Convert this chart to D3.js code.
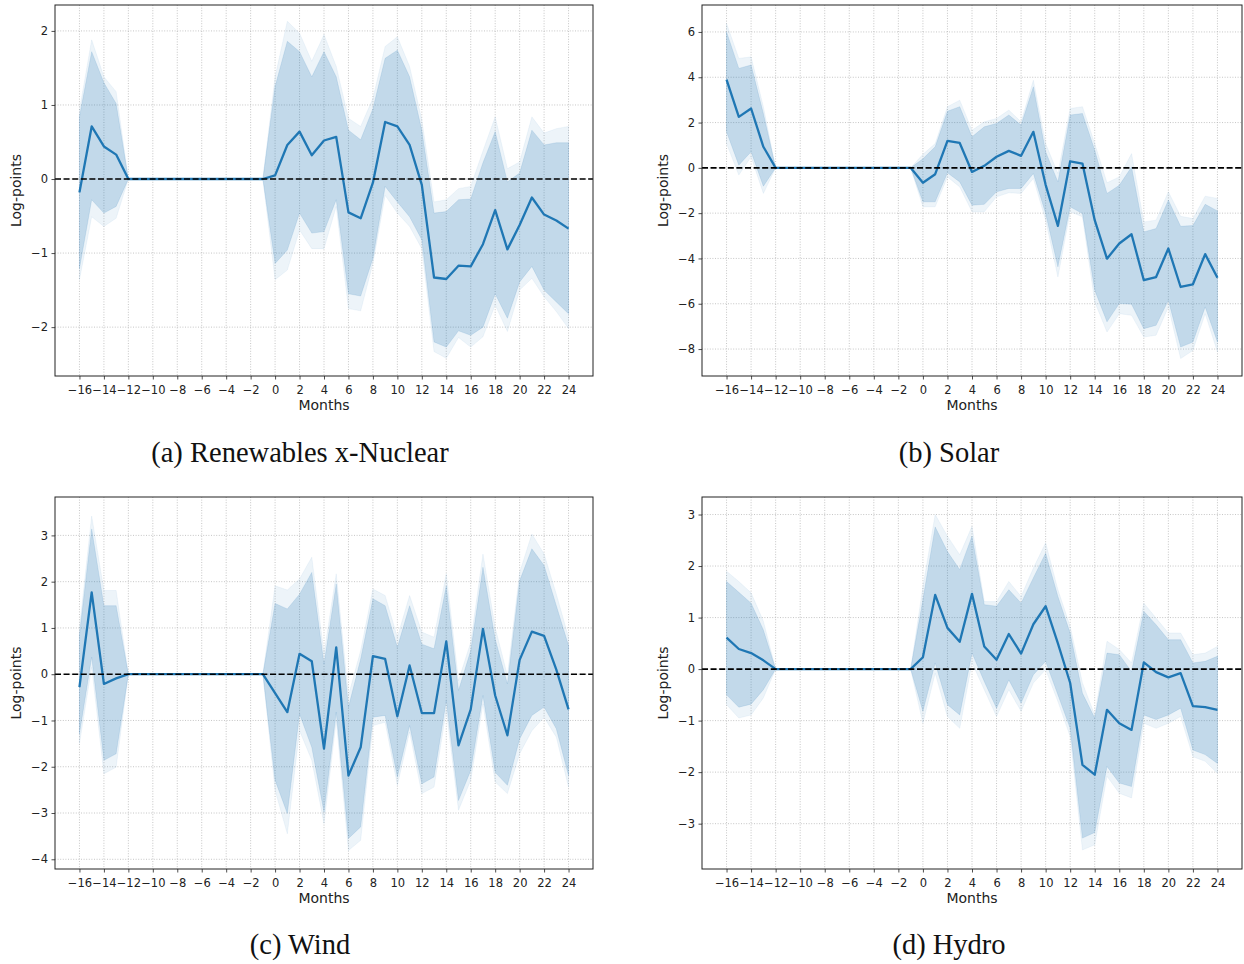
<!DOCTYPE html>
<html>
<head>
<meta charset="utf-8">
<script src="https://cdn.jsdelivr.net/npm/d3@7"></script>
<style>
  body { margin: 0; background: #fff; }
  svg { display: block; }
  .tick text { font-family: "DejaVu Sans", sans-serif; font-size: 11.5px; fill: #222; }
  .axis-label { font-family: "DejaVu Sans", sans-serif; font-size: 14px; fill: #222; }
  .caption { font-family: "Liberation Serif", serif; font-size: 28.5px; fill: #111; }
</style>
</head>
<body>
<svg id="chart" width="1244" height="964"></svg>
<script>

// months on the x axis (-16 .. 24)
const months = [-16, -15, -14, -13, -12, -11, -10, -9, -8, -7, -6, -5, -4, -3, -2, -1,
  0, 1, 2, 3, 4, 5, 6, 7, 8, 9, 10, 11, 12, 13, 14, 15, 16, 17, 18, 19, 20, 21, 22, 23, 24];

// (a) renewables x-nuclear
const meanA = [-0.18, 0.71, 0.44, 0.33, 0, 0, 0, 0, 0, 0, 0, 0, 0, 0, 0, 0,
  0.05, 0.46, 0.64, 0.32, 0.52, 0.57, -0.45, -0.53, -0.05, 0.77, 0.71, 0.46, -0.08, -1.33, -1.35, -1.17, -1.18, -0.88, -0.42, -0.95, -0.62, -0.25, -0.48, -0.56, -0.67];
const hiA = [0.84, 1.72, 1.30, 1.02, 0, 0, 0, 0, 0, 0, 0, 0, 0, 0, 0, 0,
  1.25, 1.86, 1.72, 1.38, 1.72, 1.38, 0.66, 0.53, 0.95, 1.63, 1.74, 1.38, 0.66, -0.46, -0.44, -0.28, -0.27, 0.22, 0.64, -0.04, 0.08, 0.66, 0.46, 0.49, 0.49];
const loA = [-1.21, -0.28, -0.46, -0.37, 0, 0, 0, 0, 0, 0, 0, 0, 0, 0, 0, 0,
  -1.14, -0.96, -0.46, -0.73, -0.71, -0.28, -1.55, -1.58, -1.07, -0.10, -0.31, -0.51, -0.82, -2.20, -2.27, -2.05, -2.11, -2.00, -1.55, -1.88, -1.39, -1.18, -1.50, -1.66, -1.82];
const hi2A = [0.93, 1.88, 1.38, 1.18, 0, 0, 0, 0, 0, 0, 0, 0, 0, 0, 0, 0,
  1.38, 2.13, 1.97, 1.59, 1.95, 1.52, 0.82, 0.71, 1.09, 1.79, 1.92, 1.52, 0.80, -0.31, -0.28, -0.13, -0.10, 0.38, 0.84, 0.14, 0.23, 0.84, 0.62, 0.68, 0.71];
const lo2A = [-1.36, -0.51, -0.64, -0.53, 0, 0, 0, 0, 0, 0, 0, 0, 0, 0, 0, 0,
  -1.36, -1.23, -0.69, -0.94, -0.94, -0.37, -1.75, -1.78, -1.14, -0.22, -0.46, -0.64, -0.94, -2.33, -2.42, -2.14, -2.27, -2.13, -1.70, -2.06, -1.50, -1.34, -1.59, -1.79, -2.02];

// (b) solar
const meanB = [3.90, 2.25, 2.62, 0.93, 0, 0, 0, 0, 0, 0, 0, 0, 0, 0, 0, 0,
  -0.66, -0.28, 1.19, 1.10, -0.18, 0.09, 0.49, 0.75, 0.53, 1.59, -0.75, -2.56, 0.29, 0.19, -2.31, -4.01, -3.34, -2.93, -4.96, -4.82, -3.56, -5.26, -5.14, -3.81, -4.85];
const hiB = [6.00, 4.39, 4.54, 2.40, 0, 0, 0, 0, 0, 0, 0, 0, 0, 0, 0, 0,
  0.40, 0.93, 2.50, 2.70, 1.37, 1.81, 1.96, 2.33, 1.89, 3.58, 0.71, -0.62, 2.33, 2.40, 0.78, -1.13, -0.77, 0.04, -2.83, -2.68, -1.43, -2.58, -2.55, -1.61, -1.90];
const loB = [1.59, 0.12, 0.71, -0.81, 0, 0, 0, 0, 0, 0, 0, 0, 0, 0, 0, 0,
  -1.50, -1.50, -0.22, -0.62, -1.65, -1.61, -1.06, -0.91, -0.91, -0.25, -2.02, -4.37, -1.72, -2.02, -5.40, -6.80, -5.99, -6.02, -7.10, -6.95, -5.85, -7.91, -7.69, -6.14, -7.69];
const hi2B = [6.38, 4.83, 4.90, 2.70, 0, 0, 0, 0, 0, 0, 0, 0, 0, 0, 0, 0,
  0.60, 1.07, 2.70, 2.99, 1.66, 2.03, 2.18, 2.55, 2.03, 3.87, 1.07, -0.25, 2.62, 2.70, 1.07, -0.66, -0.40, 0.63, -2.39, -2.31, -1.06, -2.14, -2.24, -1.25, -1.35];
const lo2B = [1.07, -0.32, 0.49, -1.13, 0, 0, 0, 0, 0, 0, 0, 0, 0, 0, 0, 0,
  -1.72, -1.72, -0.40, -0.84, -1.94, -1.94, -1.28, -1.10, -1.13, -0.47, -2.31, -4.82, -1.94, -2.16, -5.92, -7.25, -6.44, -6.51, -7.47, -7.39, -6.14, -8.42, -8.06, -6.44, -8.13];

// (c) wind
const meanC = [-0.28, 1.77, -0.21, -0.09, 0, 0, 0, 0, 0, 0, 0, 0, 0, 0, 0, 0,
  -0.41, -0.82, 0.44, 0.28, -1.61, 0.58, -2.19, -1.58, 0.39, 0.33, -0.91, 0.19, -0.84, -0.84, 0.71, -1.54, -0.76, 0.98, -0.46, -1.32, 0.31, 0.92, 0.83, 0.10, -0.76];
const hiC = [0.85, 3.14, 1.48, 1.48, 0, 0, 0, 0, 0, 0, 0, 0, 0, 0, 0, 0,
  1.53, 1.41, 1.73, 2.20, 0.22, 1.95, -0.71, 0.33, 1.63, 1.48, 0.58, 1.48, 0.65, 0.55, 1.91, -0.35, 0.51, 2.31, 0.76, -0.21, 2.02, 2.71, 2.35, 1.48, 0.62];
const loC = [-1.29, 0.37, -1.86, -1.72, 0, 0, 0, 0, 0, 0, 0, 0, 0, 0, 0, 0,
  -2.29, -3.01, -0.86, -1.58, -2.98, -0.82, -3.55, -3.30, -0.93, -0.89, -2.22, -1.11, -2.37, -2.22, -0.57, -2.73, -2.08, -0.46, -2.12, -2.40, -1.40, -0.89, -0.71, -1.18, -2.19];
const hi2C = [1.00, 3.42, 1.81, 1.81, 0, 0, 0, 0, 0, 0, 0, 0, 0, 0, 0, 0,
  1.91, 1.82, 2.06, 2.53, 0.44, 2.17, -0.46, 0.51, 1.84, 1.70, 0.80, 1.70, 0.91, 0.80, 2.17, -0.14, 0.69, 2.60, 1.01, -0.03, 2.20, 3.03, 2.60, 1.73, 0.80];
const lo2C = [-1.50, 0.15, -2.15, -2.01, 0, 0, 0, 0, 0, 0, 0, 0, 0, 0, 0, 0,
  -2.51, -3.45, -1.22, -1.86, -3.23, -1.00, -3.81, -3.59, -1.11, -1.04, -2.40, -1.25, -2.58, -2.44, -0.78, -2.94, -2.29, -0.64, -2.33, -2.58, -1.72, -1.22, -0.93, -1.36, -2.44];

// (d) hydro
const meanD = [0.61, 0.39, 0.31, 0.17, 0, 0, 0, 0, 0, 0, 0, 0, 0, 0, 0, 0,
  0.23, 1.44, 0.80, 0.53, 1.46, 0.44, 0.18, 0.68, 0.30, 0.87, 1.22, 0.50, -0.27, -1.86, -2.05, -0.79, -1.05, -1.18, 0.13, -0.06, -0.16, -0.08, -0.72, -0.74, -0.79];
const hiD = [1.70, 1.49, 1.28, 0.76, 0, 0, 0, 0, 0, 0, 0, 0, 0, 0, 0, 0,
  1.35, 2.76, 2.28, 1.93, 2.58, 1.25, 1.22, 1.54, 1.28, 1.77, 2.25, 1.41, 0.70, -0.47, -0.95, 0.31, 0.28, -0.05, 1.12, 0.86, 0.57, 0.57, 0.12, 0.15, 0.25];
const loD = [-0.50, -0.74, -0.68, -0.40, 0, 0, 0, 0, 0, 0, 0, 0, 0, 0, 0, 0,
  -0.82, 0.12, -0.69, -0.89, 0.31, -0.24, -0.76, -0.21, -0.66, -0.11, 0.15, -0.50, -1.15, -3.28, -3.17, -1.89, -2.21, -2.28, -0.89, -0.98, -0.89, -0.76, -1.57, -1.66, -1.83];
const hi2D = [1.90, 1.70, 1.48, 0.93, 0, 0, 0, 0, 0, 0, 0, 0, 0, 0, 0, 0,
  1.60, 3.00, 2.58, 2.22, 2.77, 1.31, 1.31, 1.70, 1.41, 1.96, 2.45, 1.54, 0.83, -0.27, -0.89, 0.54, 0.38, 0.12, 1.28, 0.99, 0.70, 0.70, 0.28, 0.31, 0.44];
const lo2D = [-0.69, -0.95, -0.89, -0.56, 0, 0, 0, 0, 0, 0, 0, 0, 0, 0, 0, 0,
  -1.05, -0.08, -0.92, -1.15, 0.12, -0.40, -0.92, -0.40, -0.82, -0.27, -0.01, -0.63, -1.31, -3.51, -3.41, -2.08, -2.41, -2.50, -1.05, -1.15, -1.05, -0.92, -1.70, -1.79, -2.02];

// tick labels
const xTicks = [-16, -14, -12, -10, -8, -6, -4, -2, 0, 2, 4, 6, 8, 10, 12, 14, 16, 18, 20, 22, 24];
const yTicksA = [-2, -1, 0, 1, 2];
const yTicksB = [-8, -6, -4, -2, 0, 2, 4, 6];
const yTicksC = [-4, -3, -2, -1, 0, 1, 2, 3];
const yTicksD = [-3, -2, -1, 0, 1, 2, 3];

const captions = ['(a) Renewables x-Nuclear', '(b) Solar', '(c) Wind', '(d) Hydro'];

const C0 = '#1f77b4';

const panels = [
  {box: {left: 55, right: 593, top: 5, bottom: 376}, yDomain: [-2.66, 2.35], yTicks: yTicksA,
   mean: meanA, lo: loA, hi: hiA, lo2: lo2A, hi2: hi2A, caption: captions[0], capX: 300, capY: 462},
  {box: {left: 702, right: 1242, top: 5, bottom: 376}, yDomain: [-9.19, 7.19], yTicks: yTicksB,
   mean: meanB, lo: loB, hi: hiB, lo2: lo2B, hi2: hi2B, caption: captions[1], capX: 949, capY: 462},
  {box: {left: 55, right: 593, top: 497, bottom: 869}, yDomain: [-4.21, 3.83], yTicks: yTicksC,
   mean: meanC, lo: loC, hi: hiC, lo2: lo2C, hi2: hi2C, caption: captions[2], capX: 300, capY: 954},
  {box: {left: 702, right: 1242, top: 497, bottom: 869}, yDomain: [-3.88, 3.34], yTicks: yTicksD,
   mean: meanD, lo: loD, hi: hiD, lo2: lo2D, hi2: hi2D, caption: captions[3], capX: 949, capY: 954}
];

const svg = d3.select('#chart');

svg.append('rect').attr('width', 1244).attr('height', 964).attr('fill', '#fff');

function drawPanel (p) {
  const b = p.box;
  const x = d3.scaleLinear().domain([-18, 26]).range([b.left, b.right]);
  const y = d3.scaleLinear().domain(p.yDomain).range([b.bottom, b.top]);

  const g = svg.append('g');

  // grid
  g.append('g').selectAll('line').data(xTicks).join('line')
    .attr('x1', d => x(d)).attr('x2', d => x(d))
    .attr('y1', b.top).attr('y2', b.bottom)
    .attr('stroke', '#b8b8b8').attr('stroke-width', 0.8).attr('stroke-dasharray', '1,1.6');
  g.append('g').selectAll('line').data(p.yTicks).join('line')
    .attr('x1', b.left).attr('x2', b.right)
    .attr('y1', d => y(d)).attr('y2', d => y(d))
    .attr('stroke', '#b8b8b8').attr('stroke-width', 0.8).attr('stroke-dasharray', '1,1.6');

  const idx = months.map((m, i) => i);

  // outer band then inner band
  const outer = d3.area().x(i => x(months[i])).y0(i => y(p.lo2[i])).y1(i => y(p.hi2[i]));
  const inner = d3.area().x(i => x(months[i])).y0(i => y(p.lo[i])).y1(i => y(p.hi[i]));

  g.append('path').datum(idx).attr('d', outer)
    .attr('fill', C0).attr('fill-opacity', 0.08)
    .attr('stroke', C0).attr('stroke-opacity', 0.06).attr('stroke-width', 1);
  g.append('path').datum(idx).attr('d', inner)
    .attr('fill', C0).attr('fill-opacity', 0.21)
    .attr('stroke', C0).attr('stroke-opacity', 0.12).attr('stroke-width', 1);

  // mean line
  const line = d3.line().x(i => x(months[i])).y(i => y(p.mean[i]));
  g.append('path').datum(idx).attr('d', line)
    .attr('fill', 'none').attr('stroke', C0).attr('stroke-width', 2.3)
    .attr('stroke-linejoin', 'round');

  // zero reference
  g.append('line')
    .attr('x1', b.left).attr('x2', b.right)
    .attr('y1', y(0)).attr('y2', y(0))
    .attr('stroke', '#000').attr('stroke-width', 1.6).attr('stroke-dasharray', '6,2.6');

  // axes
  const xAxis = d3.axisBottom(x).tickValues(xTicks).tickFormat(d3.format('d'))
    .tickSizeInner(3.5).tickSizeOuter(0).tickPadding(3.5);
  const yAxis = d3.axisLeft(y).tickValues(p.yTicks).tickFormat(d3.format('d'))
    .tickSizeInner(3.5).tickSizeOuter(0).tickPadding(3.5);

  const gx = g.append('g').attr('transform', `translate(0,${b.bottom})`).call(xAxis);
  const gy = g.append('g').attr('transform', `translate(${b.left},0)`).call(yAxis);
  [gx, gy].forEach(a => {
    a.select('.domain').remove();
    a.selectAll('.tick line').attr('stroke', '#222').attr('stroke-width', 0.8);
    a.selectAll('.tick text').attr('font-size', null).attr('font-family', null);
  });
  gx.selectAll('.tick text').attr('dy', '0.95em');

  // frame
  g.append('rect')
    .attr('x', b.left).attr('y', b.top)
    .attr('width', b.right - b.left).attr('height', b.bottom - b.top)
    .attr('fill', 'none').attr('stroke', '#222').attr('stroke-width', 1);

  // axis labels
  g.append('text').attr('class', 'axis-label')
    .attr('x', (b.left + b.right) / 2).attr('y', b.bottom + 34)
    .attr('text-anchor', 'middle').text('Months');
  g.append('text').attr('class', 'axis-label')
    .attr('transform', `translate(${b.left - 34},${(b.top + b.bottom) / 2}) rotate(-90)`)
    .attr('text-anchor', 'middle').text('Log-points');

  // caption
  svg.append('text').attr('class', 'caption')
    .attr('x', p.capX).attr('y', p.capY)
    .attr('text-anchor', 'middle').text(p.caption);
}

panels.forEach(drawPanel);

</script>
</body>
</html>
